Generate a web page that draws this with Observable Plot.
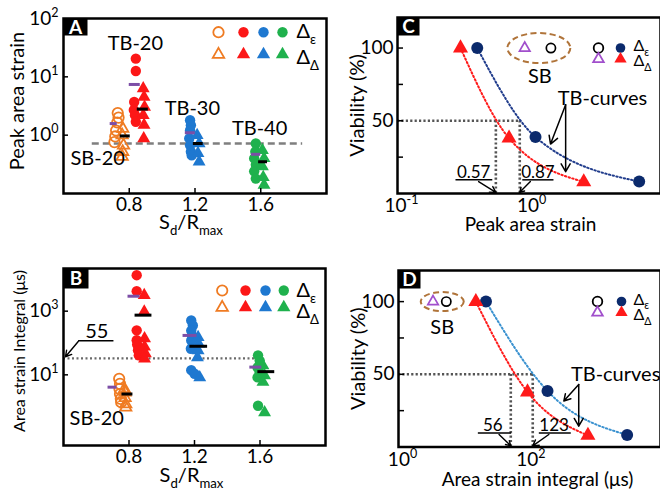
<!DOCTYPE html>
<html><head><meta charset="utf-8">
<script src="https://cdn.jsdelivr.net/npm/d3@7"></script>
<script src="https://cdn.jsdelivr.net/npm/@observablehq/plot@0.6"></script>
<style>
body{margin:0;background:#fff;}
#wrap{position:relative;width:660px;height:491px;overflow:hidden;background:#fff;}
#wrap svg{position:absolute;overflow:visible;}
</style></head><body><div id="wrap"></div>
<script>
// ================= DATA =================
const sdTicks = [0.8, 1.2, 1.6];
const groupNames = ["SB-20", "TB-20", "TB-30", "TB-40"];

// Panel A — peak area strain: [Sd/Rmax (jittered), value]
const peakSB20_e = [[0.73,2.4],[0.735,2.0],[0.727,1.65],[0.72,1.2],[0.715,0.95],[0.71,0.76]];
const peakSB20_d = [[0.76,1.3],[0.757,1.0],[0.765,0.67],[0.76,0.52],[0.757,0.43]];
const peakTB20_e = [[0.84,20.5],[0.84,12.6],[0.83,3.7],[0.828,2.7],[0.835,2.2],[0.84,1.7]];
const peakTB20_d = [[0.885,6.3],[0.89,4.5],[0.893,3.05],[0.885,2.2],[0.89,1.5],[0.888,0.88]];
const peakTB30_e = [[1.17,1.8],[1.175,1.48],[1.17,1.22],[1.165,0.88],[1.17,0.67],[1.175,0.52],[1.18,0.45]];
const peakTB30_d = [[1.213,1.0],[1.225,0.72],[1.218,0.49],[1.225,0.35]];
const peakTB40_e = [[1.57,0.72],[1.567,0.52],[1.56,0.40],[1.57,0.31],[1.56,0.24],[1.57,0.18]];
const peakTB40_d = [[1.61,0.55],[1.62,0.40],[1.61,0.29],[1.615,0.19],[1.62,0.14]];
// mean bars [x1, x2, value]
const peakMean_e = [[0.684,0.727,1.58],[0.80,0.867,7.4],[1.141,1.202,1.1],[1.544,1.60,0.47]];
const peakMean_d = [[0.745,0.806,0.97],[0.849,0.916,2.8],[1.19,1.25,0.72],[1.587,1.641,0.35]];
const peakThreshold = [{x1:0.575, x2:1.855, v:0.72}];

// Panel B — area strain integral (µs)
const intSB20_e = [[0.74,7.5],[0.745,5.2],[0.742,3.6],[0.745,2.5],[0.75,1.76],[0.752,1.38]];
const intSB20_d = [[0.772,3.6],[0.776,2.8],[0.776,1.9],[0.78,1.2],[0.78,0.95]];
const intTB20_e = [[0.847,13500],[0.847,4250],[0.847,250],[0.847,123],[0.85,89],[0.855,59],[0.86,41]];
const intTB20_d = [[0.893,3180],[0.893,955],[0.895,138],[0.895,76],[0.9,47],[0.895,32]];
const intTB30_e = [[1.18,510],[1.19,355],[1.18,245],[1.185,172],[1.18,120],[1.178,66],[1.18,14],[1.2,10.8]];
const intTB30_d = [[1.222,152],[1.226,94],[1.222,58],[1.218,35],[1.232,8.3]];
const intTB40_e = [[1.588,41],[1.598,28],[1.585,17],[1.598,12],[1.585,8.3],[1.588,1.07]];
const intTB40_d = [[1.618,19.5],[1.628,9.5],[1.618,5.9],[1.628,0.66]];
const intMean_e = [[0.672,0.727,4.1],[0.794,0.867,2950],[1.13,1.215,173],[1.538,1.611,17.5]];
const intMean_d = [[0.757,0.824,2.5],[0.837,0.94,750],[1.172,1.28,79],[1.587,1.69,12.6]];
const intThreshold = [{x1:0.4, x2:1.578, v:33}];
const intThresholdLabel = "55";

// Panel C — viability (%) vs peak area strain
const viaPeak_e = [[0.41,100],[1.15,38.8],[7.2,8.2]];
const viaPeak_d = [[0.305,100],[0.72,38],[2.7,8]];
const viaPeakSB_e = [[1.51,100]];
const viaPeakSB_d = [[0.95,100]];
const viaPeak50 = [0.57, 0.87];

// Panel D — viability (%) vs area strain integral
const viaInt_e = [[23,100],[209,38.5],[3630,8.3]];
const viaInt_d = [[16,100],[102,37.8],[890,7.9]];
const viaIntSB_e = [[5.55,100]];
const viaIntSB_d = [[3.45,100]];
const viaInt50 = [56, 123];

// ================= STYLE =================
const FONT = "Lato, 'Open Sans', 'DejaVu Sans', sans-serif";
const COL = {"SB-20":"#ef7b22","TB-20":"#fc1717","TB-30":"#1e78d0","TB-40":"#1fb14d"};
const PURPLE = "#7c4ea6", NAVY = "#0b2a6c", SKY = "#3b92d0", RED = "#ff1a1a", VIOLET = "#a14fcc", BROWN = "#b0743a";
const wrap = document.getElementById("wrap");
const pow10 = d => `10^{${Math.round(Math.log10(d))}}`;

function ellipseSymbol(rx, ry) {
  const k = 0.5523;
  return {draw(c) {
    c.moveTo(rx, 0);
    c.bezierCurveTo(rx, ry*k, rx*k, ry, 0, ry);
    c.bezierCurveTo(-rx*k, ry, -rx, ry*k, -rx, 0);
    c.bezierCurveTo(-rx, -ry*k, -rx*k, -ry, 0, -ry);
    c.bezierCurveTo(rx*k, -ry, rx, -ry*k, rx, 0);
    c.closePath();
  }};
}

function richify(svg) {
  const NS = "http://www.w3.org/2000/svg";
  svg.querySelectorAll("text").forEach(t => {
    const s = t.textContent;
    if (!/[_^]\{/.test(s)) return;
    const fs = parseFloat(getComputedStyle(t).fontSize) || 19;
    t.textContent = "";
    const re = /([_^])\{([^}]*)\}/g;
    let last = 0, m, cur = 0;
    const add = (str, shift, small) => {
      if (!str) return;
      const ts = document.createElementNS(NS, "tspan");
      if (shift !== cur) ts.setAttribute("dy", (shift - cur).toFixed(2));
      if (small) ts.setAttribute("font-size", (fs * 0.66).toFixed(1));
      ts.textContent = str;
      t.appendChild(ts);
      cur = shift;
    };
    while ((m = re.exec(s))) {
      add(s.slice(last, m.index), 0, false);
      add(m[2], m[1] === "_" ? fs * 0.28 : -fs * 0.42, true);
      last = re.lastIndex;
    }
    add(s.slice(last), 0, false);
  });
}

function place(svg, left, top) {
  svg.style.left = left + "px";
  svg.style.top = top + "px";
  wrap.appendChild(svg);
  richify(svg);
}

function scatter(sets) {
  const circles = [], tris = [];
  for (const s of sets) {
    const open = s.group === "SB-20";
    const o = {x: d => d[0], y: d => d[1]};
    if (s.kind === "e") circles.push(Plot.dot(s.pts, {...o, symbol: "circle", r: 5.2,
      fill: open ? "none" : COL[s.group], stroke: open ? COL[s.group] : null, strokeWidth: 1.8}));
    else tris.push(Plot.dot(s.pts, {...o, symbol: open ? "triangle2" : "triangle", r: open ? 5.4 : 4.8,
      fill: open ? "none" : COL[s.group], stroke: open ? COL[s.group] : null, strokeWidth: 1.8}));
  }
  return [...circles, ...tris];
}

function means(e, d) {
  return [
    Plot.ruleY(e, {y: d => d[2], x1: d => d[0], x2: d => d[1], stroke: PURPLE, strokeWidth: 3}),
    Plot.ruleY(d, {y: d => d[2], x1: d => d[0], x2: d => d[1], stroke: "black", strokeWidth: 3})
  ];
}

function legend(cols, rows, textDx, fs, r) {
  const out = [];
  rows.forEach(row => {
    cols.forEach(c => {
      const isC = row.kind === "e";
      out.push(Plot.dot([0], {frameAnchor: "top-left", dx: c.dx, dy: row.dy,
        symbol: isC ? "circle" : (c.open ? "triangle2" : "triangle"), r: isC ? r : r * (c.open ? 1.05 : 0.95),
        fill: c.open ? "none" : c.color, stroke: c.open ? c.color : null, strokeWidth: 1.8}));
    });
    out.push(Plot.text([row.label], {frameAnchor: "top-left", dx: textDx, dy: row.tdy,
      textAnchor: "start", lineAnchor: "middle", fontSize: fs}));
  });
  return out;
}

function letter(ch, fw, fh, bw, bh) {
  return [
    Plot.frame({fill: "black", stroke: null, insetRight: fw - bw, insetBottom: fh - bh}),
    Plot.text([ch], {frameAnchor: "top-left", dx: bw / 2, dy: bh / 2 + 0.5, fill: "white",
      fontSize: 19, fontWeight: "bold", textAnchor: "middle", lineAnchor: "middle"})
  ];
}

const baseStyle = {fontFamily: FONT, fontSize: "19px", color: "black", background: "transparent", overflow: "visible"};

// ================= PANEL A =================
{
  const mL = 63, mR = 4, mT = 18, mB = 52, W = 330, H = 245;
  const fw = W - mL - mR, fh = H - mT - mB;
  const sets = [
    {group:"SB-20",kind:"e",pts:peakSB20_e},{group:"SB-20",kind:"d",pts:peakSB20_d},
    {group:"TB-20",kind:"e",pts:peakTB20_e},{group:"TB-20",kind:"d",pts:peakTB20_d},
    {group:"TB-30",kind:"e",pts:peakTB30_e},{group:"TB-30",kind:"d",pts:peakTB30_d},
    {group:"TB-40",kind:"e",pts:peakTB40_e},{group:"TB-40",kind:"d",pts:peakTB40_d}];
  const svg = Plot.plot({
    width: W, height: H, marginLeft: mL, marginRight: mR, marginTop: mT, marginBottom: mB,
    style: baseStyle,
    x: {type: "linear", domain: [0.4, 2.0]},
    y: {type: "log", domain: [0.1, 100]},
    marks: [
      Plot.ruleY(peakThreshold, {y: "v", x1: "x1", x2: "x2", stroke: "#7f7f7f", strokeWidth: 2.3, strokeDasharray: "7,4"}),
      ...scatter(sets),
      ...means(peakMean_e, peakMean_d),
      Plot.text([{x:0.837,y:37,t:groupNames[1]},{x:1.184,y:2.9,t:groupNames[2]},{x:1.593,y:1.32,t:groupNames[3]},{x:0.608,y:0.40,t:groupNames[0]}],
        {x: "x", y: "y", text: "t", fontSize: 20, textAnchor: "middle", lineAnchor: "middle"}),
      ...legend([{dx:155,color:COL["SB-20"],open:true},{dx:180,color:COL["TB-20"]},{dx:200,color:COL["TB-30"]},{dx:219,color:COL["TB-40"]}],
        [{kind:"e",dy:13.7,tdy:13,label:"Δ_{ε}"},{kind:"d",dy:36,tdy:39,label:"Δ_{Δ}"}], 233, 20, 5.2),
      Plot.frame({stroke: "black", strokeWidth: 2.5}),
      ...letter("A", fw, fh, 24, 17),
      Plot.axisY({ticks: [1, 10], tickSize: 5, dx: 5, fill: "none", strokeWidth: 1.5, label: null}),
      Plot.axisY({ticks: [1, 10, 100], tickSize: 0, tickPadding: 5, tickFormat: pow10, label: null}),
      Plot.axisX({ticks: sdTicks, tickSize: 5, dy: -5, fill: "none", strokeWidth: 1.5, label: null}),
      Plot.axisX({ticks: sdTicks, tickSize: 0, tickPadding: 4, tickFormat: d => d.toFixed(1), label: null}),
      Plot.text(["Peak area strain"], {frameAnchor: "left", dx: -46, dy: -5, rotate: -90, fontSize: 20, textAnchor: "middle", lineAnchor: "middle"}),
      Plot.text(["S_{d}/R_{max}"], {frameAnchor: "bottom", dx: -4, dy: 29, fontSize: 20, textAnchor: "middle", lineAnchor: "middle"})
    ]
  });
  place(svg, 0, 0);
}

// ================= PANEL B =================
{
  const mL = 63, mR = 5, mT = 23, mB = 46, W = 330, H = 246;
  const fw = W - mL - mR, fh = H - mT - mB;
  const sets = [
    {group:"SB-20",kind:"e",pts:intSB20_e},{group:"SB-20",kind:"d",pts:intSB20_d},
    {group:"TB-20",kind:"e",pts:intTB20_e},{group:"TB-20",kind:"d",pts:intTB20_d},
    {group:"TB-30",kind:"e",pts:intTB30_e},{group:"TB-30",kind:"d",pts:intTB30_d},
    {group:"TB-40",kind:"e",pts:intTB40_e},{group:"TB-40",kind:"d",pts:intTB40_d}];
  const svg = Plot.plot({
    width: W, height: H, marginLeft: mL, marginRight: mR, marginTop: mT, marginBottom: mB,
    style: baseStyle,
    x: {type: "linear", domain: [0.4, 2.0]},
    y: {type: "log", domain: [0.0603, 21900]},
    marks: [
      Plot.ruleY(intThreshold, {y: "v", x1: "x1", x2: "x2", stroke: "#6a6a6a", strokeWidth: 2.2, strokeDasharray: "2,2.5"}),
      ...scatter(sets),
      ...means(intMean_e, intMean_d),
      Plot.text([{x:0.603,y:0.41,t:groupNames[0]}], {x: "x", y: "y", text: "t", fontSize: 20, textAnchor: "middle", lineAnchor: "middle"}),
      Plot.text([{x:0.603,y:225,t:intThresholdLabel}], {x: "x", y: "y", text: "t", fontSize: 20, textAnchor: "middle", lineAnchor: "middle"}),
      Plot.link([{x1:0.489,x2:0.705,y:118}], {x1: "x1", x2: "x2", y1: "y", y2: "y", stroke: "black", strokeWidth: 1.5}),
      Plot.arrow([{x1:0.49,y1:112,x2:0.412,y2:37}], {x1: "x1", y1: "y1", x2: "x2", y2: "y2", stroke: "black", strokeWidth: 1.4, headLength: 8}),
      ...legend([{dx:158.7,color:COL["SB-20"],open:true},{dx:182,color:COL["TB-20"]},{dx:202,color:COL["TB-30"]},{dx:220.3,color:COL["TB-40"]}],
        [{kind:"e",dy:22,tdy:22,label:"Δ_{ε}"},{kind:"d",dy:39,tdy:43,label:"Δ_{Δ}"}], 233, 20, 5.2),
      Plot.frame({stroke: "black", strokeWidth: 2.5}),
      ...letter("B", fw, fh, 25, 20),
      Plot.axisY({ticks: [10, 1000], tickSize: 5, dx: 5, fill: "none", strokeWidth: 1.5, label: null}),
      Plot.axisY({ticks: [10, 1000], tickSize: 0, tickPadding: 5, tickFormat: pow10, label: null}),
      Plot.axisX({ticks: sdTicks, tickSize: 5, dy: -5, fill: "none", strokeWidth: 1.5, label: null}),
      Plot.axisX({ticks: sdTicks, tickSize: 0, tickPadding: 4, tickFormat: d => d.toFixed(1), label: null}),
      Plot.text(["Area strain Integral (μs)"], {frameAnchor: "left", dx: -44, dy: -6, rotate: -90, fontSize: 16, textAnchor: "middle", lineAnchor: "middle"}),
      Plot.text(["S_{d}/R_{max}"], {frameAnchor: "bottom", dx: -3, dy: 30, fontSize: 20, textAnchor: "middle", lineAnchor: "middle"})
    ]
  });
  place(svg, 0, 245);
}

// ================= PANELS C & D =================
function viability(o) {
  const {W, H, mL, mR, mT, mB, xDomain, yDomain, e, d, sbE, sbD, fifty, xTickVals, xLabel, letterCh, ell, sbText, tbText, tbArrows, labels, curveBlue, lg} = o;
  const fw = W - mL - mR, fh = H - mT - mB;
  const P = {x: d => d[0], y: d => d[1]};
  return Plot.plot({
    width: W, height: H, marginLeft: mL, marginRight: mR, marginTop: mT, marginBottom: mB,
    style: baseStyle,
    x: {type: "log", domain: xDomain},
    y: {type: "linear", domain: yDomain},
    marks: [
      Plot.ruleY([50], {x1: xDomain[0], x2: fifty[1], stroke: "#555", strokeWidth: 2.6, strokeDasharray: "2.2,2.2"}),
      Plot.ruleX(fifty, {y1: 0, y2: 50, stroke: "#555", strokeWidth: 2.6, strokeDasharray: "2.2,2.2"}),
      Plot.line(e, {...P, curve: "monotone-x", stroke: curveBlue, strokeWidth: 2, strokeDasharray: "1.4,2.4"}),
      Plot.line(d, {...P, curve: "monotone-x", stroke: RED, strokeWidth: 2, strokeDasharray: "1.4,2.4"}),
      Plot.dot(e, {...P, r: 6, fill: NAVY}),
      Plot.dot(d, {...P, r: 5.6, symbol: "triangle", fill: RED}),
      Plot.dot([ell.c], {...P, r: 1, symbol: ellipseSymbol(ell.rx, ell.ry), fill: "none", stroke: BROWN, strokeWidth: 2, strokeDasharray: "6,3.5"}),
      Plot.dot(sbE, {...P, r: 4.6, fill: "none", stroke: "black", strokeWidth: 1.7}),
      Plot.dot(sbD, {...P, r: 5, symbol: "triangle2", fill: "none", stroke: VIOLET, strokeWidth: 1.7}),
      Plot.text([sbText], {x: "x", y: "y", text: () => "SB", fontSize: 20, textAnchor: "middle", lineAnchor: "middle"}),
      Plot.text([tbText], {x: "x", y: "y", text: () => "TB-curves", fontSize: 20, textAnchor: "middle", lineAnchor: "middle"}),
      Plot.arrow(tbArrows, {x1: "x1", y1: "y1", x2: "x2", y2: "y2", stroke: "black", strokeWidth: 1.5, headLength: 9}),
      Plot.text(labels, {x: "tx", y: "ty", text: "t", fontSize: 17, textAnchor: "middle", lineAnchor: "middle"}),
      Plot.link(labels, {x1: "u1", x2: "u2", y1: "uy", y2: "uy", stroke: "black", strokeWidth: 1.5}),
      Plot.arrow(labels, {x1: "a1", y1: "ay", x2: "t0", y2: 0.8, stroke: "black", strokeWidth: 1.4, headLength: 7}),
      ...legend([{dx:lg.x1,color:"black",open:true},{dx:lg.x2,color:NAVY}], [{kind:"e",dy:lg.y1,tdy:lg.t1,label:"Δ_{ε}"}], lg.tx, 16, 4.8),
      ...legend([{dx:lg.x1,color:VIOLET,open:true},{dx:lg.x2,color:RED}], [{kind:"d",dy:lg.y2,tdy:lg.t2,label:"Δ_{Δ}"}], lg.tx, 16, 4.8),
      Plot.frame({stroke: "black", strokeWidth: 2.5}),
      ...letter(letterCh, fw, fh, 22, 18),
      Plot.axisY({ticks: [25, 50, 75, 100], tickSize: 6, dx: 6, fill: "none", strokeWidth: 1.5, label: null}),
      Plot.axisY({ticks: [50, 100], tickSize: 0, tickPadding: 4, label: null}),
      Plot.axisX({ticks: xTickVals, tickSize: 0, tickPadding: 5, dx: 4, tickFormat: pow10, label: null}),
      Plot.text(["Viability (%)"], {frameAnchor: "left", dx: -40, dy: 0, rotate: -90, fontSize: 20, textAnchor: "middle", lineAnchor: "middle"}),
      Plot.text([xLabel], {frameAnchor: "bottom", dx: o.xlDx, dy: o.xlDy, fontSize: 19, textAnchor: "middle", lineAnchor: "middle"})
    ]
  });
}

place(viability({
  W: 330, H: 245, mL: 67, mR: 0, mT: 17, mB: 52, xDomain: [0.1, 10.5], yDomain: [0, 121],
  e: viaPeak_e, d: viaPeak_d, sbE: viaPeakSB_e, sbD: viaPeakSB_d, fifty: viaPeak50,
  xTickVals: [0.1, 1], xLabel: "Peak area strain", xlDx: 1.5, xlDy: 31.5, letterCh: "C",
  ell: {c: [1.22, 100], rx: 31.5, ry: 15}, sbText: {x: 1.24, y: 80.6}, tbText: {x: 3.76, y: 65.5},
  tbArrows: [{x1:1.96,y1:61,x2:1.5,y2:34},{x1:1.96,y1:61,x2:1.96,y2:15}],
  labels: [
    {t:"0.57", t0:0.57, tx:0.385, ty:14.6, u1:0.279, u2:0.535, uy:9.4, a1:0.42, ay:8.2},
    {t:"0.87", t0:0.87, tx:1.2, ty:14.6, u1:0.91, u2:1.58, uy:9.4, a1:1.05, ay:8.2}],
  curveBlue: "#203c8c",
  lg: {x1: 201, x2: 223, tx: 236, y1: 30.5, y2: 41.5, t1: 28.5, t2: 43.5}
}), 330, 0);

place(viability({
  W: 330, H: 246, mL: 68, mR: 0, mT: 25, mB: 44.5, xDomain: [1, 12000], yDomain: [0, 121.4],
  e: viaInt_e, d: viaInt_d, sbE: viaIntSB_e, sbD: viaIntSB_d, fifty: viaInt50,
  xTickVals: [1, 100], xLabel: "Area strain integral (μs)", xlDx: 8, xlDy: 33, letterCh: "D",
  ell: {c: [4.8, 100], rx: 21.5, ry: 9.5}, sbText: {x: 4.8, y: 82.3}, tbText: {x: 2400, y: 50},
  tbArrows: [{x1:640,y1:43,x2:375,y2:31.6},{x1:640,y1:43,x2:640,y2:14.3}],
  labels: [
    {t:"56", t0:56, tx:29.4, ty:14.8, u1:17.2, u2:56.5, uy:9.7, a1:36.8, ay:8.6},
    {t:"123", t0:123, tx:265, ty:14.8, u1:153, u2:481, uy:9.7, a1:219, ay:8.6}],
  curveBlue: SKY,
  lg: {x1: 199, x2: 223, tx: 235, y1: 31, y2: 42, t1: 29, t2: 44.5}
}), 330, 245);
</script></body></html>
